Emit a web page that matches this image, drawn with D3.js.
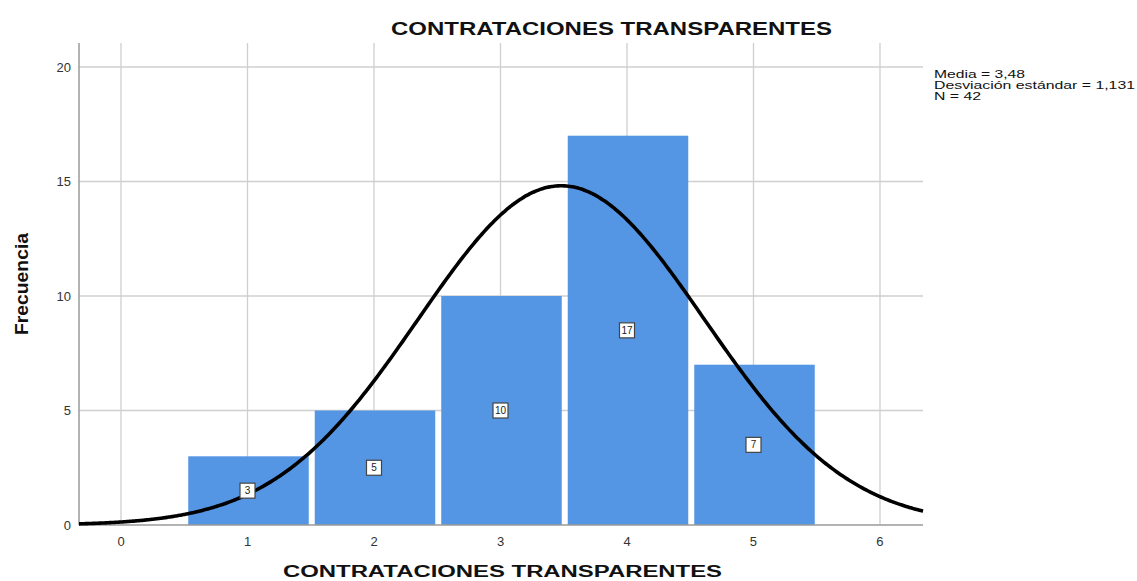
<!DOCTYPE html>
<html><head><meta charset="utf-8">
<script src="https://cdn.jsdelivr.net/npm/d3@7"></script>
<style>body{margin:0;background:#fff;}svg{display:block;font-family:"Liberation Sans",Arial,sans-serif;}</style>
</head><body><svg id="c" width="1137" height="581"></svg>
<script>
const categories = [1, 2, 3, 4, 5];
const counts = [3, 5, 10, 17, 7];
const xTicks = [0, 1, 2, 3, 4, 5, 6];
const yTicks = [0, 5, 10, 15, 20];
const mean = 3.48, sd = 1.131, n = 42;
const statsLines = ["Media = 3,48", "Desviación estándar = 1,131", "N = 42"];
const title = "CONTRATACIONES TRANSPARENTES";
const xTitle = "CONTRATACIONES TRANSPARENTES";
const yTitle = "Frecuencia";

const svg = d3.select("#c");
const L = 79, R = 923, T = 43, B = 525;
const x = d3.scaleLinear().domain([-0.332, 6.34]).range([L, R]);
const y = d3.scaleLinear().domain([0, 20]).range([B, 67]);

// grid
svg.append("g").selectAll("line").data(xTicks).join("line")
  .attr("x1", d => x(d)).attr("x2", d => x(d)).attr("y1", T).attr("y2", B)
  .attr("stroke", "#cfcfcf").attr("stroke-width", 1.3);
svg.append("g").selectAll("line").data(yTicks.filter(d => d > 0)).join("line")
  .attr("x1", L).attr("x2", R).attr("y1", d => y(d)).attr("y2", d => y(d))
  .attr("stroke", "#cfcfcf").attr("stroke-width", 1.3);

// bars
svg.append("g").selectAll("rect").data(categories).join("rect")
  .attr("x", (d) => x(d - 0.5) + 4)
  .attr("width", (d) => x(d + 0.5) - x(d - 0.5) - 6)
  .attr("y", (d, i) => y(counts[i]))
  .attr("height", (d, i) => y(0) - y(counts[i]))
  .attr("fill", "#5596e4");

// axes lines
svg.append("line").attr("x1", L).attr("x2", L).attr("y1", T).attr("y2", B)
  .attr("stroke", "#9a9a9a").attr("stroke-width", 1.5);
svg.append("line").attr("x1", L).attr("x2", R).attr("y1", B).attr("y2", B)
  .attr("stroke", "#9a9a9a").attr("stroke-width", 1.5);

// tick labels
svg.append("g").selectAll("text").data(yTicks).join("text")
  .attr("x", 71).attr("y", d => y(d) + 4.5).attr("text-anchor", "end")
  .attr("font-size", 13).attr("fill", "#333").text(d => d);
svg.append("g").selectAll("text").data(xTicks).join("text")
  .attr("x", d => x(d)).attr("y", 546).attr("text-anchor", "middle")
  .attr("font-size", 13).attr("fill", "#333").text(d => d);

// normal curve
const pts = d3.range(0, 401).map(i => {
  const v = -0.332 + (6.34 + 0.332) * i / 400;
  const f = n / (sd * Math.sqrt(2 * Math.PI)) * Math.exp(-0.5 * ((v - mean) / sd) ** 2);
  return [v, f];
});
svg.append("path").datum(pts)
  .attr("d", d3.line().x(d => x(d[0])).y(d => y(d[1])).curve(d3.curveBasis))
  .attr("fill", "none").attr("stroke", "#000").attr("stroke-width", 3.6);

// data labels
const lab = svg.append("g").selectAll("g").data(categories).join("g")
  .attr("transform", (d, i) => `translate(${x(d)},${y(counts[i] / 2)})`);
lab.append("rect").attr("x", d => -7.5).attr("y", -7.5).attr("width", 15).attr("height", 15)
  .attr("fill", "#fff").attr("stroke", "#444").attr("stroke-width", 1.2);
lab.append("text").attr("text-anchor", "middle").attr("y", 3.5)
  .attr("font-size", 10).attr("fill", "#222").text((d, i) => counts[i]);

// titles
svg.append("text").attr("x", 391).attr("y", 35).attr("font-size", 19).attr("font-weight", "bold")
  .attr("textLength", 441).attr("lengthAdjust", "spacingAndGlyphs").attr("fill", "#111").text(title);
svg.append("text").attr("x", 283).attr("y", 577).attr("font-size", 16).attr("font-weight", "bold")
  .attr("textLength", 439).attr("lengthAdjust", "spacingAndGlyphs").attr("fill", "#111").text(xTitle);
svg.append("text").attr("transform", "translate(28,335) rotate(-90)").attr("font-size", 19)
  .attr("font-weight", "bold").attr("textLength", 102).attr("lengthAdjust", "spacingAndGlyphs")
  .attr("fill", "#111").text(yTitle);

// stats
const sw = [91, 201, 47];
svg.append("g").selectAll("text").data(statsLines).join("text")
  .attr("x", 934).attr("y", (d, i) => 78 + i * 11).attr("font-size", 10.5)
  .attr("textLength", (d, i) => sw[i]).attr("lengthAdjust", "spacingAndGlyphs")
  .attr("fill", "#111").text(d => d);
</script></body></html>
